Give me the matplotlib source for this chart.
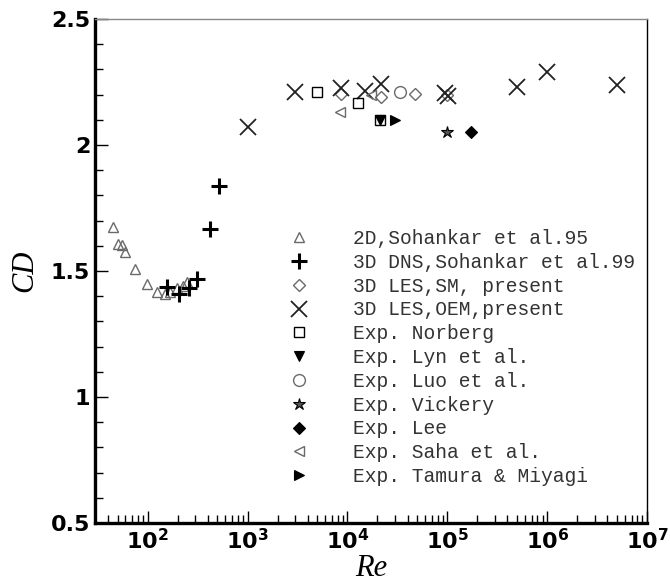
import matplotlib
matplotlib.use("Agg")
import matplotlib.pyplot as plt
from matplotlib.ticker import FixedLocator, LogLocator, MultipleLocator, NullFormatter

# ---- data ----
re_2d_sohankar = [45, 50, 55, 60, 75, 99, 123, 149, 167, 195, 227, 249]
cd_2d_sohankar = [1.676, 1.607, 1.603, 1.577, 1.508, 1.448, 1.418, 1.409, 1.418, 1.433, 1.442, 1.455]

re_3d_dns = [157, 207, 261, 313, 420, 520]
cd_3d_dns = [1.438, 1.409, 1.431, 1.467, 1.668, 1.837]

re_les_sm = [8570, 21900, 47000, 100000]
cd_les_sm = [2.202, 2.192, 2.202, 2.198]

re_les_oem = [1000, 3000, 8570, 15000, 21500, 96000, 102000, 500000, 1000000, 5000000]
cd_les_oem = [2.070, 2.212, 2.225, 2.215, 2.242, 2.205, 2.195, 2.231, 2.291, 2.238]

re_norberg = [5000, 12800, 21000]
cd_norberg = [2.212, 2.165, 2.099]

re_lyn = [21000]
cd_lyn = [2.099]

re_luo = [33300]
cd_luo = [2.209]

re_vickery = [100000]
cd_vickery = [2.05]

re_lee = [171000]
cd_lee = [2.05]

re_saha = [8370, 17400]
cd_saha = [2.130, 2.198]

re_tamura = [30200]
cd_tamura = [2.099]

x_ticks = [1e2, 1e3, 1e4, 1e5, 1e6, 1e7]
x_ticklabels = [r"$\mathbf{10^{2}}$", r"$\mathbf{10^{3}}$", r"$\mathbf{10^{4}}$",
                r"$\mathbf{10^{5}}$", r"$\mathbf{10^{6}}$", r"$\mathbf{10^{7}}$"]
y_ticks = [0.5, 1.0, 1.5, 2.0, 2.5]
y_ticklabels = ["0.5", "1", "1.5", "2", "2.5"]

labels = ["2D,Sohankar et al.95", "3D DNS,Sohankar et al.99", "3D LES,SM, present",
          "3D LES,OEM,present", "Exp. Norberg", "Exp. Lyn et al.", "Exp. Luo et al.",
          "Exp. Vickery", "Exp. Lee", "Exp. Saha et al.", "Exp. Tamura & Miyagi"]

plt.rcParams["mathtext.fontset"] = "dejavusans"

W, H = 670, 588
fig = plt.figure(figsize=(W / 100, H / 100), dpi=100)
ax = fig.add_axes([95 / W, 1 - 523 / H, (647 - 95) / W, (523 - 19) / H])

gray = "#6a6a6a"
handles = []
handles.append(ax.plot(re_2d_sohankar, cd_2d_sohankar, ls="none", marker="^", ms=7,
                       mfc="none", mec=gray, mew=1.0)[0])
handles.append(ax.plot(re_3d_dns, cd_3d_dns, ls="none", marker="+", ms=11,
                       mec="black", mew=2.2)[0])
handles.append(ax.plot(re_les_sm, cd_les_sm, ls="none", marker="D", ms=6,
                       mfc="none", mec=gray, mew=1.0)[0])
handles.append(ax.plot(re_les_oem, cd_les_oem, ls="none", marker="x", ms=11,
                       mec="#222222", mew=1.3)[0])
handles.append(ax.plot(re_norberg, cd_norberg, ls="none", marker="s", ms=6.5,
                       mfc="none", mec="black", mew=1.0)[0])
handles.append(ax.plot(re_lyn, cd_lyn, ls="none", marker="v", ms=6.5,
                       mfc="black", mec="black", mew=0.8)[0])
handles.append(ax.plot(re_luo, cd_luo, ls="none", marker="o", ms=8.5,
                       mfc="none", mec=gray, mew=1.0)[0])
handles.append(ax.plot(re_vickery, cd_vickery, ls="none", marker="*", ms=9,
                       mfc="#555555", mec="black", mew=0.8)[0])
handles.append(ax.plot(re_lee, cd_lee, ls="none", marker="D", ms=6,
                       mfc="black", mec="black", mew=0.8)[0])
handles.append(ax.plot(re_saha, cd_saha, ls="none", marker="<", ms=7,
                       mfc="none", mec=gray, mew=1.0)[0])
handles.append(ax.plot(re_tamura, cd_tamura, ls="none", marker=">", ms=6.5,
                       mfc="black", mec="black", mew=0.8)[0])

ax.set_xscale("log")
ax.set_xlim(29.7, 1e7)
ax.set_ylim(0.5, 2.5)

ax.xaxis.set_major_locator(FixedLocator(x_ticks))
ax.set_xticklabels(x_ticklabels)
ax.xaxis.set_minor_locator(LogLocator(base=10, subs=range(2, 10), numticks=20))
ax.xaxis.set_minor_formatter(NullFormatter())
ax.yaxis.set_major_locator(FixedLocator(y_ticks))
ax.set_yticklabels(y_ticklabels)
ax.yaxis.set_minor_locator(MultipleLocator(0.1))

ax.tick_params(which="both", direction="in", top=False, right=False, width=1.0, color="black")
ax.tick_params(which="major", length=9)
ax.tick_params(which="minor", length=6)
for lab in ax.get_yticklabels():
    lab.set_fontweight("bold")
    lab.set_fontsize(16)
    lab.set_family("DejaVu Sans")
for lab in ax.get_xticklabels():
    lab.set_fontsize(16)

ax.spines["left"].set_linewidth(2.4)
ax.spines["bottom"].set_linewidth(2.4)
ax.spines["top"].set_linewidth(1.0)
ax.spines["top"].set_color("#888888")
ax.spines["right"].set_linewidth(1.0)

ax.set_xlabel("Re", family="Liberation Serif", style="italic", fontsize=22, labelpad=1)
ax.set_ylabel("CD", family="Liberation Serif", style="italic", fontsize=22, labelpad=8)

leg = ax.legend(handles, labels, loc="upper left", frameon=False,
                bbox_to_anchor=(281 / W, 1 - 229 / H), bbox_transform=fig.transFigure,
                borderpad=0, borderaxespad=0, numpoints=1, handlelength=1.8,
                handletextpad=1.9, labelspacing=0.245,
                prop={"family": "Liberation Mono", "size": 14.1})
for t in leg.get_texts():
    t.set_color("#333333")

fig.savefig("out.png", dpi=100)
